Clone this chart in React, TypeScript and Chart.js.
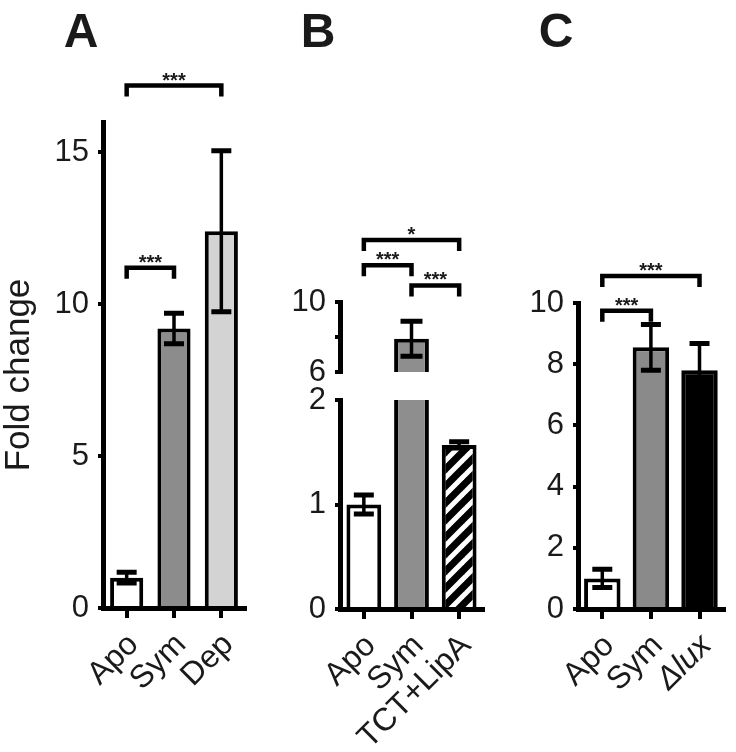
import React, { useEffect, useRef } from 'react';
import { Chart, registerables } from 'chart.js';

Chart.register(...registerables);

const FONT = '"Liberation Sans", Arial, Helvetica, sans-serif';
const TEXT = '#1a1a1a';

// ---- Panel A ----
const A_LABELS = ['Apo', 'Sym', 'Dep'];
const A_VALUES = [1.0, 9.2, 12.4];
const A_ERRORS = [0.18, 0.5, 2.65];
const A_COLORS = ['#ffffff', '#8c8c8c', '#d3d3d3'];
const A_TICKS = [0, 5, 10, 15];
const A_MAX = 16;
// [from index, to index, height (axis units), label]
const A_SIG: [number, number, number, string][] = [
  [0, 2, 17.2, '***'],
  [0, 1, 11.2, '***'],
];

// ---- Panel B (broken axis) ----
const B_LABELS = ['Apo', 'Sym', 'TCT+LipA'];
const B_VALUES = [1.0, 7.9, 1.57];
const B_ERRORS = [0.09, 1.0, 0.03];
const B_COLORS = ['#ffffff', '#8e8e8e', 'hatch'];
const B_LOW_TICKS = [0, 1, 2];
const B_LOW_RANGE = [0, 2];
const B_HIGH_TICKS = [6, 8, 10];
const B_HIGH_TICK_LABELS = ['6', '', '10'];
const B_HIGH_RANGE = [6, 10];
const B_SIG: [number, number, number, string][] = [
  [0, 2, 13.55, '*'],
  [0, 1, 12.1, '***'],
  [1, 2, 10.95, '***'],
];

// ---- Panel C ----
const C_LABELS = ['Apo', 'Sym', 'Δlux'];
const C_ITALIC = [false, false, true];
const C_VALUES = [1.0, 8.55, 7.8];
const C_ERRORS = [0.3, 0.75, 0.88];
const C_COLORS = ['#ffffff', '#8a8a8a', '#000000'];
const C_TICKS = [0, 2, 4, 6, 8, 10];
const C_MAX = 10;
const C_SIG: [number, number, number, string][] = [
  [0, 2, 10.88, '***'],
  [0, 1, 9.75, '***'],
];

const PANEL_LETTERS = ['A', 'B', 'C'];
const Y_TITLE = 'Fold change';

function makeHatch(): CanvasPattern | string {
  const c = document.createElement('canvas');
  const s = 17;
  c.width = s;
  c.height = s;
  const g = c.getContext('2d');
  if (!g) return '#000';
  g.fillStyle = '#000';
  g.fillRect(0, 0, s, s);
  g.strokeStyle = '#fff';
  g.lineWidth = 5;
  for (const off of [-s, 0, s]) {
    g.beginPath();
    g.moveTo(off - 2, s + 2);
    g.lineTo(off + s + 2, -2);
    g.stroke();
  }
  return g.createPattern(c, 'repeat') || '#000';
}

function yScale(ticks: number[], min: number, max: number, width: number, labels?: string[]) {
  return {
    type: 'linear',
    min,
    max,
    afterBuildTicks: (s: any) => {
      s.ticks = ticks.map((v) => ({ value: v }));
    },
    afterFit: (s: any) => {
      s.width = width;
    },
    ticks: {
      autoSkip: false,
      font: { family: FONT, size: 31 },
      color: TEXT,
      padding: 9,
      callback: (v: any, i: number) => (labels ? labels[i] : String(v)),
    },
    grid: { drawOnChartArea: false, drawTicks: true, tickLength: 5, lineWidth: 4, color: '#000' },
    border: { display: true, color: '#000', width: 5, z: 1 },
  };
}

function xScale(height: number, italic?: boolean[]) {
  return {
    type: 'category',
    offset: true,
    afterFit: (s: any) => {
      s.height = height;
    },
    ticks: {
      autoSkip: false,
      minRotation: 45,
      maxRotation: 45,
      padding: 8,
      labelOffset: 7,
      color: TEXT,
      font: (ctx: any) => ({
        family: FONT,
        size: 32,
        style: italic && italic[ctx.index] ? 'italic' : 'normal',
      }),
    },
    grid: { offset: false, drawOnChartArea: false, drawTicks: true, tickLength: 10, lineWidth: 4, color: '#000' },
    border: { display: true, color: '#000', width: 5, z: 1 },
  };
}

function panelPlugin(p: {
  values: number[];
  errors: number[];
  sig?: [number, number, number, string][];
  letter?: string;
  yTitle?: string;
  capHalf: number;
}) {
  return {
    id: 'panelDecor',
    afterDatasetsDraw(chart: any) {
      const ctx = chart.ctx as CanvasRenderingContext2D;
      const meta = chart.getDatasetMeta(0);
      const y = chart.scales.y;
      const a = chart.chartArea;
      ctx.save();
      ctx.beginPath();
      ctx.rect(a.left, a.top - 3, a.right - a.left, a.bottom - a.top + 3);
      ctx.clip();
      ctx.strokeStyle = '#000';
      meta.data.forEach((bar: any, i: number) => {
        const v = p.values[i];
        const e = p.errors[i];
        if (v == null || e == null) return;
        const x = bar.x;
        const yt = y.getPixelForValue(v + e);
        const yb = y.getPixelForValue(v - e);
        ctx.lineWidth = 3.5;
        ctx.beginPath();
        ctx.moveTo(x, yt);
        ctx.lineTo(x, yb);
        ctx.stroke();
        ctx.lineWidth = 5;
        ctx.beginPath();
        ctx.moveTo(x - p.capHalf, yt);
        ctx.lineTo(x + p.capHalf, yt);
        ctx.moveTo(x - p.capHalf, yb);
        ctx.lineTo(x + p.capHalf, yb);
        ctx.stroke();
      });
      ctx.restore();
    },
    afterDraw(chart: any) {
      const ctx = chart.ctx as CanvasRenderingContext2D;
      const xs = chart.scales.x;
      const ys = chart.scales.y;
      const a = chart.chartArea;
      ctx.save();
      if (p.sig) {
        ctx.strokeStyle = '#000';
        ctx.fillStyle = TEXT;
        ctx.lineWidth = 4.5;
        ctx.lineJoin = 'miter';
        ctx.lineCap = 'butt';
        const drop = 11;
        for (const [i, j, h, label] of p.sig) {
          const x1 = xs.getPixelForValue(i);
          const x2 = xs.getPixelForValue(j);
          const yy = ys.getPixelForValue(h);
          ctx.beginPath();
          ctx.moveTo(x1, yy + drop);
          ctx.lineTo(x1, yy);
          ctx.lineTo(x2, yy);
          ctx.lineTo(x2, yy + drop);
          ctx.stroke();
          ctx.font = `bold 20px ${FONT}`;
          ctx.textAlign = 'center';
          ctx.textBaseline = 'alphabetic';
          ctx.fillText(label, (x1 + x2) / 2, yy + 1);
        }
      }
      if (p.letter) {
        ctx.fillStyle = TEXT;
        ctx.font = `bold 48px ${FONT}`;
        ctx.textAlign = 'center';
        ctx.textBaseline = 'alphabetic';
        ctx.fillText(p.letter, a.left - 22, 47);
      }
      if (p.yTitle) {
        ctx.fillStyle = TEXT;
        ctx.font = `35px ${FONT}`;
        ctx.textAlign = 'center';
        ctx.textBaseline = 'alphabetic';
        ctx.translate(29, (a.top + a.bottom) / 2 + 10);
        ctx.rotate(-Math.PI / 2);
        ctx.fillText(p.yTitle, 0, 0);
      }
      ctx.restore();
    },
  };
}

export default function App() {
  const refA = useRef<HTMLCanvasElement>(null);
  const refBLow = useRef<HTMLCanvasElement>(null);
  const refBHigh = useRef<HTMLCanvasElement>(null);
  const refC = useRef<HTMLCanvasElement>(null);

  useEffect(() => {
    const hatch = makeHatch();
    const bColors = B_COLORS.map((c) => (c === 'hatch' ? hatch : c));
    const charts: Chart[] = [];

    charts.push(
      new Chart(refA.current as HTMLCanvasElement, {
        type: 'bar',
        data: {
          labels: A_LABELS,
          datasets: [
            {
              data: A_VALUES,
              backgroundColor: A_COLORS,
              borderColor: '#000',
              borderWidth: 4,
              barPercentage: 0.7,
              categoryPercentage: 1,
            },
          ],
        },
        options: {
          responsive: false,
          animation: false,
          layout: { padding: { top: 122, right: 15, bottom: 0, left: 0 } },
          plugins: { legend: { display: false }, tooltip: { enabled: false } },
          scales: {
            x: xScale(144) as any,
            y: yScale(A_TICKS, 0, A_MAX, 103) as any,
          },
        },
        plugins: [
          panelPlugin({
            values: A_VALUES,
            errors: A_ERRORS,
            sig: A_SIG,
            letter: PANEL_LETTERS[0],
            yTitle: Y_TITLE,
            capHalf: 10,
          }),
        ],
      } as any)
    );

    charts.push(
      new Chart(refBLow.current as HTMLCanvasElement, {
        type: 'bar',
        data: {
          labels: B_LABELS,
          datasets: [
            {
              data: B_VALUES,
              backgroundColor: bColors,
              borderColor: '#000',
              borderWidth: 4,
              barPercentage: 0.73,
              categoryPercentage: 1,
              clip: 0,
            },
          ],
        },
        options: {
          responsive: false,
          animation: false,
          layout: { padding: { top: 400, right: 17, bottom: 0, left: 0 } },
          plugins: { legend: { display: false }, tooltip: { enabled: false } },
          scales: {
            x: xScale(143) as any,
            y: yScale(B_LOW_TICKS, B_LOW_RANGE[0], B_LOW_RANGE[1], 80) as any,
          },
        },
        plugins: [panelPlugin({ values: B_VALUES, errors: B_ERRORS, capHalf: 10 })],
      } as any)
    );

    charts.push(
      new Chart(refBHigh.current as HTMLCanvasElement, {
        type: 'bar',
        data: {
          labels: B_LABELS,
          datasets: [
            {
              data: B_VALUES,
              backgroundColor: bColors,
              borderColor: '#000',
              borderWidth: 4,
              borderSkipped: false,
              barPercentage: 0.73,
              categoryPercentage: 1,
              clip: 0,
            },
          ],
        },
        options: {
          responsive: false,
          animation: false,
          layout: { padding: { top: 302, right: 17, bottom: 380, left: 0 } },
          plugins: { legend: { display: false }, tooltip: { enabled: false } },
          scales: {
            x: { type: 'category', offset: true, display: false },
            y: yScale(B_HIGH_TICKS, B_HIGH_RANGE[0], B_HIGH_RANGE[1], 80, B_HIGH_TICK_LABELS) as any,
          },
        },
        plugins: [
          panelPlugin({
            values: B_VALUES,
            errors: B_ERRORS,
            sig: B_SIG,
            letter: PANEL_LETTERS[1],
            capHalf: 11,
          }),
        ],
      } as any)
    );

    charts.push(
      new Chart(refC.current as HTMLCanvasElement, {
        type: 'bar',
        data: {
          labels: C_LABELS,
          datasets: [
            {
              data: C_VALUES,
              backgroundColor: C_COLORS,
              borderColor: '#000',
              borderWidth: 4,
              barPercentage: 0.75,
              categoryPercentage: 1,
            },
          ],
        },
        options: {
          responsive: false,
          animation: false,
          layout: { padding: { top: 303, right: 8, bottom: 0, left: 0 } },
          plugins: { legend: { display: false }, tooltip: { enabled: false } },
          scales: {
            x: xScale(143, C_ITALIC) as any,
            y: yScale(C_TICKS, 0, C_MAX, 78) as any,
          },
        },
        plugins: [
          panelPlugin({
            values: C_VALUES,
            errors: C_ERRORS,
            sig: C_SIG,
            letter: PANEL_LETTERS[2],
            capHalf: 10,
          }),
        ],
      } as any)
    );

    return () => charts.forEach((c) => c.destroy());
  }, []);

  const abs = (left: number, width: number): React.CSSProperties => ({
    position: 'absolute',
    left,
    top: 0,
    width,
    height: 752,
  });

  return (
    <div style={{ position: 'absolute', left: 0, top: 0, width: 736, height: 752, background: '#fff', overflow: 'hidden' }}>
      <canvas ref={refA} width={260} height={752} style={abs(0, 260)} />
      <canvas ref={refBLow} width={240} height={752} style={abs(260, 240)} />
      <canvas ref={refBHigh} width={240} height={752} style={abs(260, 240)} />
      <canvas ref={refC} width={236} height={752} style={abs(500, 236)} />
    </div>
  );
}
